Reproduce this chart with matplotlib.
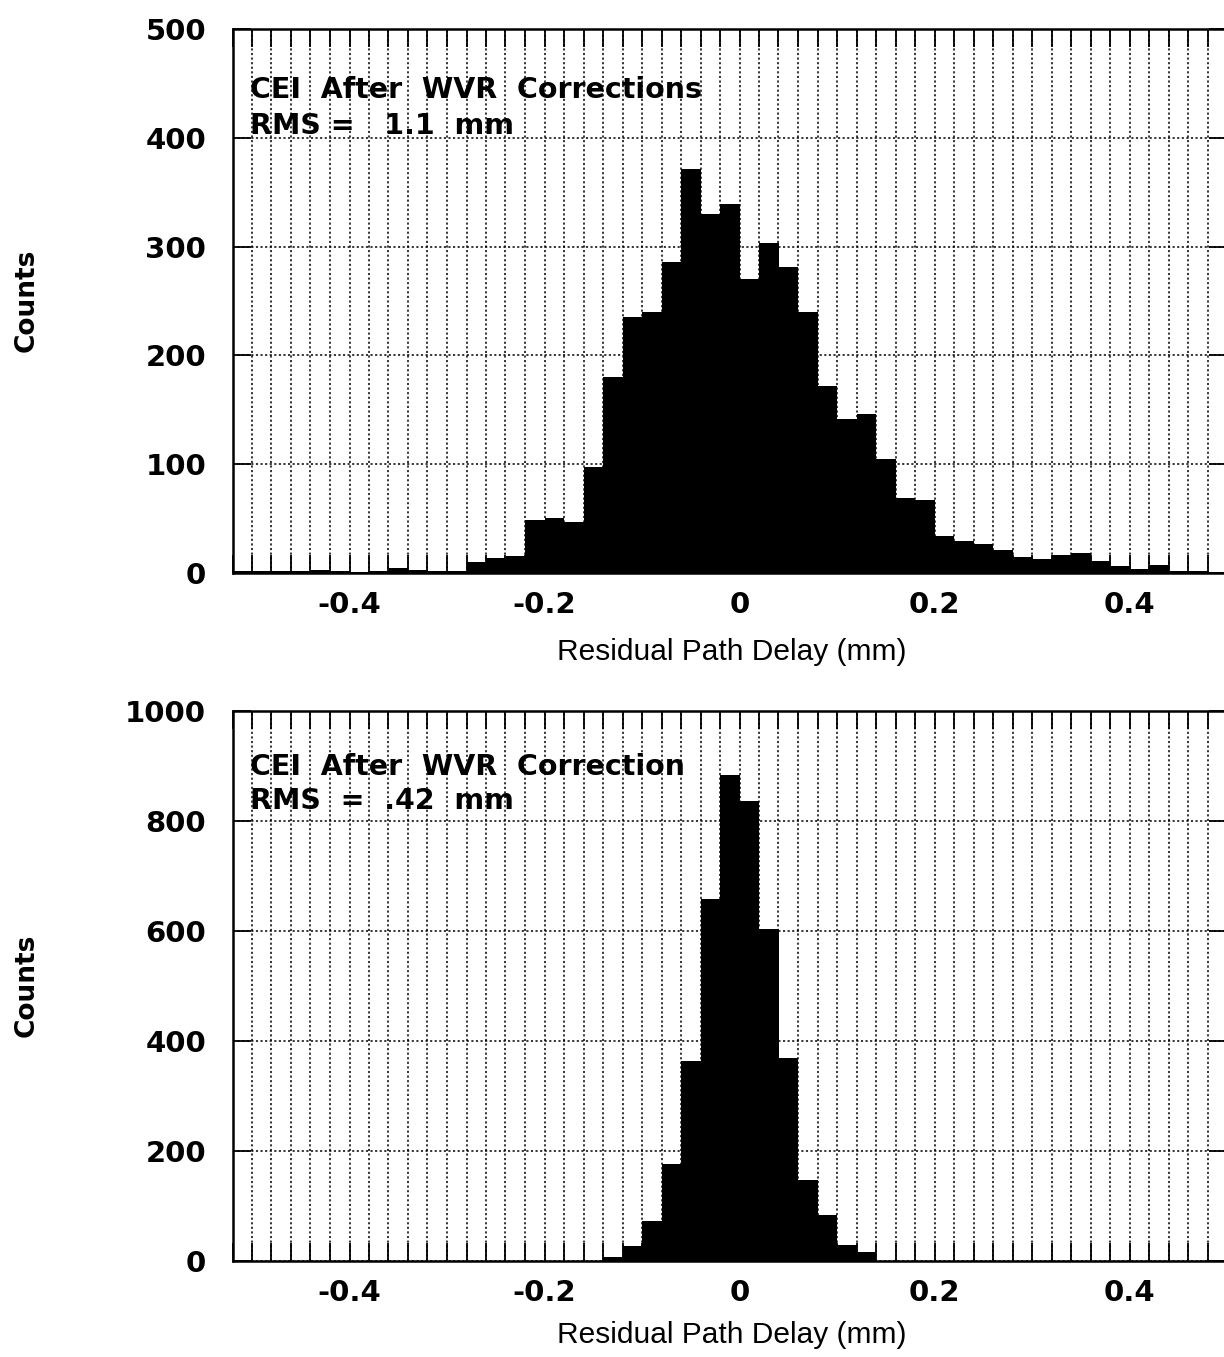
import matplotlib
matplotlib.use("Agg")
import matplotlib.pyplot as plt
import numpy as np
from matplotlib.ticker import FixedLocator, MultipleLocator

# ---------------- data ----------------
bin_edges = np.round(np.linspace(-0.52, 0.50, 52), 2)   # 51 bins of 0.02 mm

counts_top = [2, 2, 2, 2, 3, 2, 1, 2, 5, 3, 2, 2,
              10, 14, 16, 49, 51, 47, 97, 180, 235, 240, 286, 371, 330, 339,
              270, 303, 281, 240, 172, 142, 146, 105, 69, 67, 34, 29, 27, 21,
              15, 13, 17, 18, 11, 6, 4, 7, 2, 1.5, 1]

counts_bottom = [0] * 19 + [8, 27, 72, 176, 364, 659, 883, 836, 604, 370,
                            147, 83, 30, 17] + [0] * 18

xtick_values = [-0.4, -0.2, 0.0, 0.2, 0.4]
xtick_labels = ["-0.4", "-0.2", "0", "0.2", "0.4"]
ytick_top = [0, 100, 200, 300, 400, 500]
ytick_bottom = [0, 200, 400, 600, 800, 1000]

text_top = ["CEI  After  WVR  Corrections", "RMS =   1.1  mm"]
text_bottom = ["CEI  After  WVR  Correction", "RMS  =  .42  mm"]
xlabel = "Residual Path Delay (mm)"
ylabel = "Counts"

# ---------------- figure ----------------
W, H = 1224, 1357
fig = plt.figure(figsize=(W / 100, H / 100), dpi=100)
fig.patch.set_facecolor("white")

BOLD = ["DejaVu Sans"]
REG = ["Liberation Sans", "DejaVu Sans"]
dots = (0, (1.4, 1.6))


def panel(rect_px, counts, yticks, lines, text_y, xlabel_y, ylabel_y):
    left, top, right, bottom = rect_px
    ax = fig.add_axes([left / W, 1 - bottom / H, (right - left) / W, (bottom - top) / H])
    ax.bar(bin_edges[:-1], counts, width=np.diff(bin_edges), align="edge",
           color="black", linewidth=0, zorder=2)
    ax.set_xlim(bin_edges[0], bin_edges[-1])
    ax.set_ylim(yticks[0], yticks[-1])
    ax.xaxis.set_major_locator(FixedLocator(xtick_values))
    ax.set_xticklabels(xtick_labels)
    ax.xaxis.set_minor_locator(MultipleLocator(0.02))
    ax.yaxis.set_major_locator(FixedLocator(yticks))
    ax.set_yticklabels([str(v) for v in yticks])
    ax.set_axisbelow(True)
    ax.grid(which="both", axis="x", color="black", linestyle=dots, linewidth=1.1)
    ax.grid(which="major", axis="y", color="black", linestyle=dots, linewidth=1.1)
    ax.tick_params(which="both", direction="in", length=13, width=1.3,
                   top=True, right=True, bottom=True, left=True, color="black")
    ax.tick_params(axis="y", which="major", pad=19)
    ax.tick_params(axis="x", which="major", pad=13)
    for lab in ax.get_xticklabels() + ax.get_yticklabels():
        lab.set_fontfamily(BOLD)
        lab.set_fontweight("bold")
        lab.set_fontsize(21)
    for sp in ax.spines.values():
        sp.set_linewidth(1.8)
        sp.set_zorder(3)
    for i, s in enumerate(lines):
        ax.text((250 - left) / (right - left), (bottom - text_y[i]) / (bottom - top), s,
                transform=ax.transAxes, ha="left", va="center",
                fontfamily=BOLD, fontweight="bold", fontsize=20.5, zorder=4)
    fig.text(732 / W, 1 - xlabel_y / H, xlabel, ha="center", va="center",
             fontfamily=REG, fontsize=21.5)
    fig.text(27 / W, 1 - ylabel_y / H, ylabel, rotation=90, ha="center", va="center",
             fontfamily=BOLD, fontweight="bold", fontsize=19)
    return ax


panel((232.5, 29, 1227, 573), counts_top, ytick_top, text_top, (90, 126), 652, 300)
panel((232.5, 711, 1227, 1261), counts_bottom, ytick_bottom, text_bottom, (767, 801), 1335, 985)

fig.savefig("out.png", dpi=100, facecolor="white")
